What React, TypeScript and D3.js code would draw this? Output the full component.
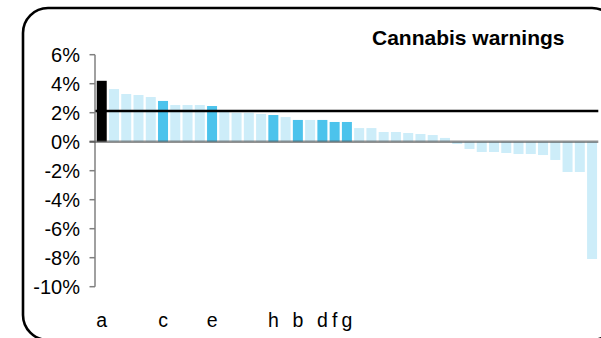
import React from "react";
import * as d3 from "d3";

const values: number[] = [
  4.2, 3.63, 3.29, 3.22, 3.08, 2.81, 2.53, 2.53, 2.53, 2.46,
  2.05, 2.0, 2.0, 1.91, 1.84, 1.7, 1.5, 1.5, 1.5, 1.36,
  1.36, 0.94, 0.94, 0.67, 0.67, 0.6, 0.53, 0.46, 0.26, -0.16,
  -0.5, -0.71, -0.71, -0.78, -0.85, -0.85, -0.92, -1.26, -2.09, -2.09,
  -8.09,
];
// highlight: 0 = normal, 1 = labelled, 2 = main
const highlight: number[] = [
  2, 0, 0, 0, 0, 1, 0, 0, 0, 1,
  0, 0, 0, 0, 1, 0, 1, 0, 1, 1,
  1, 0, 0, 0, 0, 0, 0, 0, 0, 0,
  0, 0, 0, 0, 0, 0, 0, 0, 0, 0,
  0,
];
const labelIndex: number[] = [0, 5, 9, 14, 16, 18, 19, 20];
const labelText: string[] = ["a", "c", "e", "h", "b", "d", "f", "g"];
const yTicks: number[] = [6, 4, 2, 0, -2, -4, -6, -8, -10];
const averageValue: number[] = [2.12];
const title = "Cannabis warnings";

const W = 601;
const H = 338;

export default function App() {
  const idx = values.map((_, i) => i);
  const x = d3.scaleBand<number>().domain(idx).range([95.5, 598.3]).paddingInner(0.184).paddingOuter(0.1);
  const y = d3.scaleLinear().domain([-10, 6]).range([286.7, 54.7]);
  const fills = ["#cdedf9", "#4cc3ec", "#000000"];
  const font = "'Liberation Sans', Arial, sans-serif";
  return (
    <svg width={W} height={H} style={{ position: "absolute", left: 0, top: 0 }}>
      <rect x={0} y={0} width={W} height={H} fill="#fff" />
      <rect x={23} y={8} width={594} height={332} rx={25} ry={25} fill="none" stroke="#000" strokeWidth={2.6} />
      <text x={372} y={45} fontFamily={font} fontWeight="bold" fontSize={21} fill="#000">{title}</text>
      {values.map((v, i) => (
        <rect key={i} x={x(i)} width={x.bandwidth()} y={y(Math.max(0, v))}
          height={Math.abs(y(v) - y(0))} fill={fills[highlight[i]]} />
      ))}
      {/* y axis */}
      <line x1={95} x2={95} y1={y(6)} y2={y(-10)} stroke="#808080" strokeWidth={1.5} />
      {yTicks.map((t) => (
        <g key={t}>
          <line x1={89.5} x2={95} y1={y(t)} y2={y(t)} stroke="#808080" strokeWidth={1.5} />
          <text x={80} y={y(t)} dy="0.35em" textAnchor="end" fontFamily={font} fontSize={20} fill="#000">{t}%</text>
        </g>
      ))}
      {/* zero line */}
      <line x1={89.5} x2={598.3} y1={y(0)} y2={y(0)} stroke="#4a4a4a" strokeOpacity={0.6} strokeWidth={2.4} />
      {/* average line */}
      <line x1={95.5} x2={598.3} y1={y(averageValue[0])} y2={y(averageValue[0])} stroke="#000" strokeWidth={2.6} />
      {labelIndex.map((li, k) => (
        <text key={k} x={(x(li) as number) + x.bandwidth() / 2} y={320} dy="0.35em" textAnchor="middle"
          fontFamily={font} fontSize={19.5} fill="#000">{labelText[k]}</text>
      ))}
    </svg>
  );
}
